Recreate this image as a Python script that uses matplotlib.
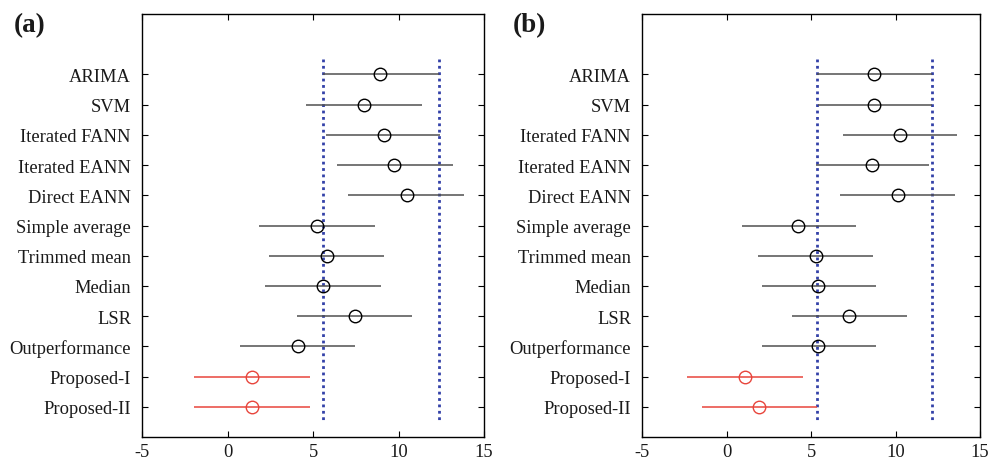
import matplotlib
matplotlib.use("Agg")
import matplotlib.pyplot as plt

methods = ["ARIMA", "SVM", "Iterated FANN", "Iterated EANN", "Direct EANN",
           "Simple average", "Trimmed mean", "Median", "LSR", "Outperformance",
           "Proposed-I", "Proposed-II"]

# Panel (a): mean rank and comparison interval
a_center = [8.92, 7.96, 9.15, 9.76, 10.48, 5.25, 5.82, 5.57, 7.48, 4.14, 1.45, 1.45]
a_low    = [5.57, 4.57, 5.76, 6.38, 7.07, 1.86, 2.41, 2.19, 4.08, 0.73, -1.96, -1.96]
a_high   = [12.35, 11.35, 12.43, 13.17, 13.85, 8.65, 9.13, 8.98, 10.81, 7.48, 4.82, 4.82]

# Panel (b)
b_center = [8.75, 8.75, 10.27, 8.63, 10.13, 4.25, 5.30, 5.43, 7.27, 5.43, 1.11, 1.92]
b_low    = [5.37, 5.40, 6.91, 5.30, 6.72, 0.90, 1.88, 2.08, 3.86, 2.08, -2.32, -1.47]
b_high   = [12.18, 12.18, 13.66, 11.98, 13.52, 7.68, 8.69, 8.83, 10.66, 8.83, 4.51, 5.34]

x_ticks = [-5, 0, 5, 10, 15]
panel_labels = ["(a)", "(b)"]

plt.rcParams['font.family'] = ['Liberation Serif', 'DejaVu Serif']

fig = plt.figure(figsize=(10.01, 4.6), dpi=100)
ax_a = fig.add_axes([0.1419, 0.0478, 0.3417, 0.9196])
ax_b = fig.add_axes([0.6414, 0.0478, 0.3377, 0.9196])

line_gray = '#505050'
red = '#e8453c'
blue = '#3341a8'
text_col = '#1a1a1a'

def draw(ax, center, low, high, label, lx):
    n = len(methods)
    ys = list(range(1, n + 1))
    for i, y in enumerate(ys):
        is_prop = methods[i].startswith("Proposed")
        c = red if is_prop else line_gray
        mc = red if is_prop else 'black'
        ax.plot([low[i], high[i]], [y, y], color=c, lw=1.1, solid_capstyle='butt', zorder=2)
        ax.plot([center[i]], [y], marker='o', ms=9, mfc='none', mec=mc, mew=1.0,
                linestyle='none', zorder=3)
    # reference lines at the first group's interval limits
    for xv in (low[0], high[0]):
        ax.plot([xv, xv], [0.5, n + 0.5], color=blue, lw=2.0,
                linestyle=(0, (1, 1.3)), zorder=1)
    ax.set_xlim(-5, 15)
    ax.set_ylim(n + 1, -1)
    ax.set_xticks(x_ticks)
    ax.set_xticklabels([str(t) for t in x_ticks])
    ax.set_yticks(ys)
    ax.set_yticklabels(methods)
    ax.tick_params(axis='both', direction='in', length=4, width=0.8,
                   top=True, right=True, labelsize=13.3, colors='black',
                   labelcolor=text_col)
    ax.tick_params(axis='x', pad=4)
    ax.tick_params(axis='y', pad=8)
    for s in ax.spines.values():
        s.set_linewidth(1.0)
    fig.text(lx, 0.972, label, fontsize=19.5, fontweight='bold', ha='left', va='top',
             color=text_col)

draw(ax_a, a_center, a_low, a_high, panel_labels[0], 0.014)
draw(ax_b, b_center, b_low, b_high, panel_labels[1], 0.512)

fig.savefig("out.png", dpi=100)
